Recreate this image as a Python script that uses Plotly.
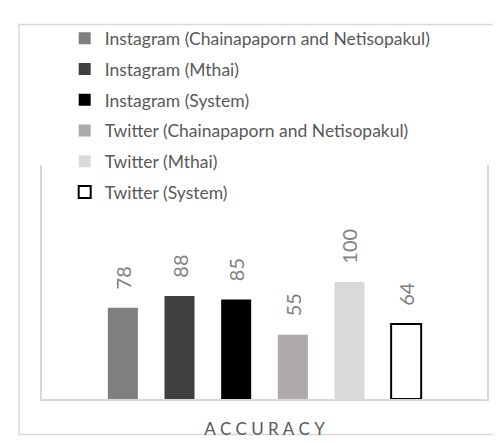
import plotly.graph_objects as go

category = ["ACCURACY"]
series_names = [
    "Instagram (Chainapaporn and Netisopakul)",
    "Instagram (Mthai)",
    "Instagram (System)",
    "Twitter (Chainapaporn and Netisopakul)",
    "Twitter (Mthai)",
    "Twitter (System)",
]
series_values = [78, 88, 85, 55, 100, 64]
fill_colors = ["#7f7f7f", "#404040", "#000000", "#aeaaaa", "#d9d9d9", "#ffffff"]
line_colors = ["#7f7f7f", "#404040", "#000000", "#aeaaaa", "#d9d9d9", "#000000"]
line_widths = [0, 0, 0, 0, 0, 2]
tick_label = "A\u2009\u2009C\u2009\u2009C\u2009\u2009U\u2009\u2009R\u2009\u2009A\u2009\u2009C\u2009\u2009Y"

FONT = "Lato, 'Open Sans', sans-serif"

fig = go.Figure()
for i, (name, val) in enumerate(zip(series_names, series_values)):
    fig.add_trace(go.Bar(
        x=category, y=[val], name=name, legendgroup=f"g{i}",
        marker=dict(color=fill_colors[i], line=dict(color=line_colors[i], width=line_widths[i])),
        texttemplate="\u00a0\u00a0\u00a0%{y}", textposition="outside", textangle=-90,
        textfont=dict(color="#7f7f7f", size=20, family=FONT),
        constraintext="none", cliponaxis=False,
    ))

fig.update_layout(
    width=501, height=443,
    margin=dict(l=34, r=22, t=154, b=39),
    paper_bgcolor="white", plot_bgcolor="white",
    barmode="group", bargap=0.236, bargroupgap=0.47,
    showlegend=True,
    legend=dict(
        x=0.051, y=1.618, xanchor="left", yanchor="top",
        font=dict(family=FONT, size=17.5, color="#595959"),
        tracegroupgap=5, bgcolor="rgba(0,0,0,0)",
    ),
    font=dict(family=FONT, color="#595959"),
)
fig.update_xaxes(
    type="category", range=[-0.5, 0.5],
    tickvals=category, ticktext=[tick_label],
    tickfont=dict(family=FONT, size=17, color="#595959"),
    ticks="", ticklabelstandoff=14,
    showline=True, linecolor="#d9d9d9", linewidth=2, showgrid=False,
)
fig.update_yaxes(
    range=[0, 200], showticklabels=False, ticks="", showgrid=False, zeroline=False,
    showline=True, mirror=True, linecolor="#d9d9d9", linewidth=2,
)
fig.add_shape(type="rect", xref="paper", yref="paper",
              x0=-0.0517, x1=1.2, y0=-0.152, y1=1.6,
              line=dict(color="#d9d9d9", width=1.5), fillcolor="rgba(0,0,0,0)", layer="below")
fig.write_html("out.html")
